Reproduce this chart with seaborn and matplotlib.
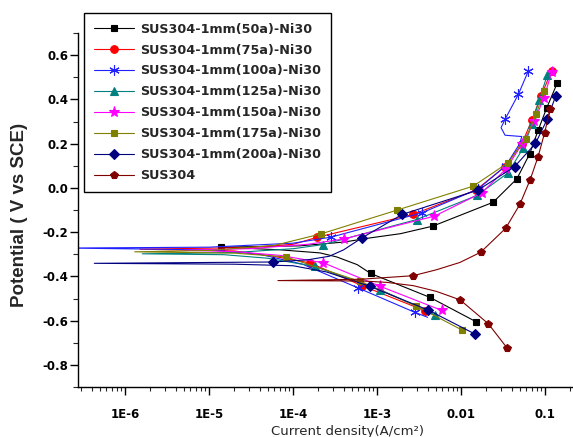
import matplotlib
matplotlib.use("Agg")
import matplotlib.pyplot as plt
import seaborn as sns
from matplotlib.ticker import FixedLocator, FixedFormatter, LogLocator, MultipleLocator, NullFormatter

# ---------------- data ----------------
labels = ["SUS304-1mm(50a)-Ni30", "SUS304-1mm(75a)-Ni30", "SUS304-1mm(100a)-Ni30",
          "SUS304-1mm(125a)-Ni30", "SUS304-1mm(150a)-Ni30", "SUS304-1mm(175a)-Ni30",
          "SUS304-1mm(200a)-Ni30", "SUS304"]

i_50a = [0.0149, 0.00426, 0.00084, 5.8e-4, 3.3e-4, 2.1e-4, 7e-5, 1.4e-5, 1.2e-4, 4e-4,
         8.3e-4, 1.9e-3, 4.6e-3, 0.0241, 0.0462, 0.0656, 0.0826, 0.105, 0.139]
v_50a = [-0.604, -0.495, -0.387, -0.347, -0.312, -0.294, -0.28, -0.268, -0.262, -0.245,
         -0.226, -0.207, -0.173, -0.065, 0.041, 0.154, 0.260, 0.363, 0.472]
m_50a = [0, 1, 2, 7, 12, 13, 14, 15, 16, 17, 18]

i_75a = [4.5e-3, 3.7e-3, 6.6e-4, 1.59e-4, 6e-5, 2e-5, 1.5e-6, 3e-5, 1e-4, 1.95e-4,
         2.68e-3, 0.015, 0.033, 0.053, 0.0697, 0.0895, 0.12]
v_75a = [-0.57, -0.555, -0.442, -0.339, -0.31, -0.285, -0.277, -0.27, -0.255, -0.223,
         -0.120, -0.01, 0.095, 0.2, 0.307, 0.416, 0.529]
m_75a = [1, 2, 3, 9, 10, 11, 12, 13, 14, 15, 16]

i_100a = [4e-3, 2.83e-3, 6e-4, 1.3e-4, 4e-5, 1e-5, 2e-7, 1e-5, 1e-4, 2.8e-4, 3.4e-3,
          0.016, 0.034, 0.05, 0.0528, 0.0334, 0.0299, 0.0334, 0.0481, 0.0633]
v_100a = [-0.585, -0.563, -0.453, -0.345, -0.30, -0.28, -0.272, -0.268, -0.25, -0.223, -0.113,
          -0.005, 0.1, 0.2, 0.232, 0.238, 0.272, 0.31, 0.423, 0.529]
m_100a = [1, 2, 9, 10, 11, 12, 17, 18, 19]

i_125a = [4.9e-3, 1.09e-3, 1.8e-4, 5e-5, 1.5e-5, 1.6e-6, 2e-5, 1e-4, 2.3e-4, 2.97e-3,
          0.0155, 0.0363, 0.0553, 0.0697, 0.085, 0.106]
v_125a = [-0.574, -0.46, -0.355, -0.318, -0.302, -0.298, -0.292, -0.275, -0.256, -0.143,
          -0.034, 0.068, 0.182, 0.287, 0.397, 0.509]
m_125a = [0, 1, 2, 8, 9, 10, 11, 12, 13, 14, 15]

i_150a = [5.9e-3, 1.09e-3, 2.3e-4, 7e-5, 2e-5, 5e-6, 3e-5, 1.5e-4, 4e-4, 4.8e-3,
          0.0177, 0.0345, 0.053, 0.0748, 0.097, 0.12]
v_150a = [-0.554, -0.445, -0.339, -0.305, -0.288, -0.282, -0.275, -0.255, -0.231, -0.128,
          -0.022, 0.087, 0.197, 0.302, 0.408, 0.524]
m_150a = [0, 1, 2, 8, 9, 10, 11, 12, 13, 14, 15]

i_175a = [0.0102, 2.9e-3, 6.3e-4, 8.2e-5, 2e-5, 1.3e-6, 1e-5, 6e-5, 2.15e-4, 1.71e-3,
          0.014, 0.0363, 0.0587, 0.0785, 0.097]
v_175a = [-0.642, -0.533, -0.423, -0.312, -0.295, -0.289, -0.283, -0.26, -0.208, -0.101,
          0.008, 0.114, 0.222, 0.333, 0.438]
m_175a = [0, 1, 2, 3, 8, 9, 10, 11, 12, 13, 14]

i_200a = [0.0147, 4e-3, 8.2e-4, 2.5e-4, 1e-4, 2e-5, 4.3e-7, 5.8e-5, 1.5e-4, 2.7e-4, 4e-4,
          6.6e-4, 1.99e-3, 0.0159, 0.0434, 0.0769, 0.106, 0.134]
v_200a = [-0.661, -0.551, -0.445, -0.38, -0.352, -0.345, -0.341, -0.335, -0.325, -0.309, -0.28,
          -0.226, -0.120, -0.010, 0.096, 0.201, 0.31, 0.416]
m_200a = [0, 1, 2, 7, 11, 12, 13, 14, 15, 16, 17]

i_304 = [0.035, 0.0211, 0.00972, 0.0051, 0.0027, 0.0013, 6.8e-4, 6.6e-5, 6.4e-4, 0.00268,
         0.0051, 0.0097, 0.0171, 0.0339, 0.050, 0.066, 0.0826, 0.0989, 0.115]
v_304 = [-0.722, -0.614, -0.506, -0.468, -0.442, -0.427, -0.421, -0.419, -0.413, -0.397,
         -0.370, -0.337, -0.291, -0.183, -0.075, 0.034, 0.141, 0.250, 0.355]
m_304 = [0, 1, 2, 9, 12, 13, 14, 15, 16, 17, 18]

x_ticks = [1e-6, 1e-5, 1e-4, 1e-3, 0.01, 0.1]
x_ticklabels = ["1E-6", "1E-5", "1E-4", "1E-3", "0.01", "0.1"]
y_ticks = [-0.8, -0.6, -0.4, -0.2, 0.0, 0.2, 0.4, 0.6]
y_ticklabels = ["-0.8", "-0.6", "-0.4", "-0.2", "0.0", "0.2", "0.4", "0.6"]

# ---------------- styling ----------------
sns.set_style("ticks")
plt.rcParams["font.family"] = ["DejaVu Sans"]
plt.rcParams["axes.unicode_minus"] = False

series = [
    (i_50a, v_50a, m_50a, "#000000", "s", 5.0),
    (i_75a, v_75a, m_75a, "#ff0000", "o", 5.5),
    (i_100a, v_100a, m_100a, "#2020ff", (6, 2, 0), 7.5),
    (i_125a, v_125a, m_125a, "#008080", "^", 6.0),
    (i_150a, v_150a, m_150a, "#ff00ff", "*", 8.0),
    (i_175a, v_175a, m_175a, "#808000", "s", 5.0),
    (i_200a, v_200a, m_200a, "#000080", "D", 5.0),
    (i_304, v_304, m_304, "#800000", "p", 6.0),
]

fig = plt.figure(figsize=(5.73, 4.37), dpi=100)
ax = fig.add_axes([78 / 573, 50 / 437, 495 / 573, 354 / 437])
ax.set_xscale("log")

for (xi, yi, mk, col, mrk, ms), lab in zip(series, labels):
    sns.lineplot(x=xi, y=yi, sort=False, estimator=None, ax=ax, color=col,
                 marker=mrk, markevery=mk, markersize=ms, markeredgecolor=col,
                 markerfacecolor=col, markeredgewidth=0.8, linewidth=0.8, label=lab)

ax.set_xlim(2.75e-7, 0.215)
ax.set_ylim(-0.9, 0.7)
ax.xaxis.set_major_locator(FixedLocator(x_ticks))
ax.xaxis.set_major_formatter(FixedFormatter(x_ticklabels))
ax.xaxis.set_minor_locator(LogLocator(base=10, subs=[2, 3, 4, 5, 6, 7, 8, 9], numticks=20))
ax.xaxis.set_minor_formatter(NullFormatter())
ax.yaxis.set_major_locator(FixedLocator(y_ticks))
ax.yaxis.set_major_formatter(FixedFormatter(y_ticklabels))
ax.yaxis.set_minor_locator(MultipleLocator(0.1))

for s in ["top", "right"]:
    ax.spines[s].set_visible(False)
for s in ["left", "bottom"]:
    ax.spines[s].set_linewidth(1.0)
    ax.spines[s].set_color("black")

ax.tick_params(axis="x", which="major", direction="out", length=5.5, width=1.0, pad=9.5,
               labelsize=8.5, colors="black")
ax.tick_params(axis="x", which="minor", direction="out", length=3, width=0.8)
ax.tick_params(axis="y", which="major", direction="out", length=5.5, width=1.0, pad=1.5,
               labelsize=8.5, colors="black")
ax.tick_params(axis="y", which="minor", direction="out", length=3.5, width=0.8)
for t in ax.get_xticklabels() + ax.get_yticklabels():
    t.set_fontweight("bold")

ax.set_ylabel("Potential ( V vs SCE)", fontsize=13.5, fontweight="bold",
              family="Liberation Sans")
ax.yaxis.set_label_coords(-0.10, 0.486)
ax.set_xlabel("Current density(A/cm²)", fontsize=9.5)
ax.xaxis.set_label_coords(0.545, -0.108)

leg = ax.legend(loc="upper left", bbox_to_anchor=(84 / 573, 1 - 13 / 437),
                bbox_transform=fig.transFigure, borderaxespad=0, frameon=True,
                fancybox=False, framealpha=1, edgecolor="black", numpoints=1,
                handlelength=3.2, handletextpad=0.45, labelspacing=0.62,
                borderpad=0.75, prop={"family": "DejaVu Sans", "weight": "bold", "size": 9.2})
leg.get_frame().set_linewidth(1.0)

fig.savefig("out.png", dpi=100)
